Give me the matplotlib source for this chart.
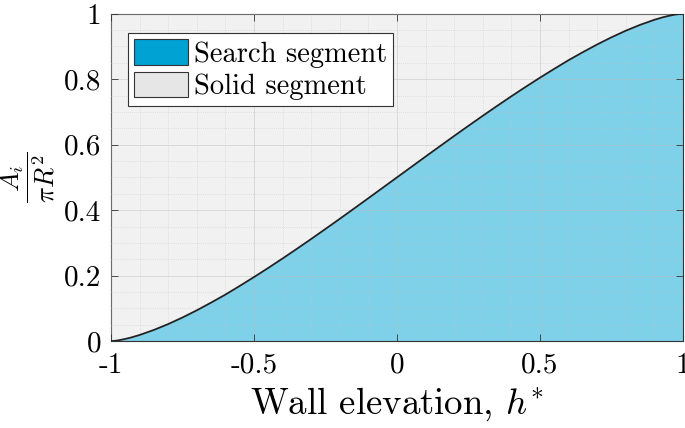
import matplotlib
matplotlib.use("Agg")
import matplotlib.pyplot as plt
from matplotlib.patches import Patch
from matplotlib.ticker import MultipleLocator

plt.rcParams['font.family'] = 'serif'
plt.rcParams['font.serif'] = ['cmr10']
plt.rcParams['mathtext.fontset'] = 'cm'
plt.rcParams['axes.unicode_minus'] = False

# values
h_star = [-1.0, -0.99, -0.98, -0.97, -0.95, -0.93, -0.9, -0.85, -0.8, -0.75, -0.7, -0.65,
          -0.6, -0.55, -0.5, -0.45, -0.4, -0.35, -0.3, -0.25, -0.2, -0.15, -0.1, -0.05,
          0.0, 0.05, 0.1, 0.15, 0.2, 0.25, 0.3, 0.35, 0.4, 0.45, 0.5, 0.55, 0.6, 0.65,
          0.7, 0.75, 0.8, 0.85, 0.9, 0.93, 0.95, 0.97, 0.98, 0.99, 1.0]
area_frac = [0.0, 0.0006, 0.0017, 0.0031, 0.0067, 0.0109, 0.0187, 0.0341, 0.052, 0.0721,
             0.094, 0.1175, 0.142, 0.1684, 0.1955, 0.2235, 0.2523, 0.2818, 0.3119, 0.3425,
             0.3735, 0.4049, 0.4364, 0.4682,
             0.5, 0.5318, 0.5636, 0.5951, 0.6265, 0.6575, 0.6881, 0.7182, 0.7477, 0.7765,
             0.8045, 0.8316, 0.858, 0.8825, 0.906, 0.9279, 0.948, 0.9659, 0.9813, 0.9891,
             0.9933, 0.9969, 0.9983, 0.9994, 1.0]
x_ticks = [-1, -0.5, 0, 0.5, 1]
x_labels = ['-1', '-0.5', '0', '0.5', '1']
y_ticks = [0, 0.2, 0.4, 0.6, 0.8, 1]
y_labels = ['0', '0.2', '0.4', '0.6', '0.8', '1']

search_col = '#00a2d4'
solid_col = '#e6e6e6'

fig = plt.figure(figsize=(6.85, 4.28), dpi=100)
ax = fig.add_axes([0.162, 0.203, 0.835, 0.765])

ax.fill_between(h_star, area_frac, 1, color=solid_col, alpha=0.55, lw=0, zorder=1)
ax.fill_between(h_star, 0, area_frac, color=search_col, alpha=0.5, lw=0, zorder=1)
ax.plot(h_star, area_frac, color='#222222', lw=1.3, zorder=3)

ax.set_xlim(-1, 1)
ax.set_ylim(0, 1)
ax.set_xticks(x_ticks)
ax.set_xticklabels(x_labels)
ax.set_yticks(y_ticks)
ax.set_yticklabels(y_labels)
ax.xaxis.set_minor_locator(MultipleLocator(0.1))
ax.yaxis.set_minor_locator(MultipleLocator(0.05))
ax.tick_params(which='both', direction='in', top=True, right=True, labelsize=21,
               color='#333333', width=0.6)
ax.tick_params(which='major', length=5)
ax.tick_params(axis='x', which='major', pad=8)
ax.tick_params(axis='y', which='major', pad=7)
ax.tick_params(which='minor', length=0)
ax.grid(which='major', color='#bcbcbc', lw=0.5, ls='-', alpha=0.6, zorder=2)
ax.grid(which='minor', color='#c4c4c4', lw=0.5, ls=(0, (1, 2)), alpha=0.8, zorder=2)
ax.set_axisbelow(False)
for s in ax.spines.values():
    s.set_color('#333333')
    s.set_linewidth(0.8)

ax.set_xlabel(r'Wall elevation, $h^{*}$', fontsize=26.5, labelpad=5)
ax.set_ylabel(r'$\dfrac{A_i}{\pi R^2}$', fontsize=19)
ax.yaxis.set_label_coords(-0.094, 0.5)

handles = [Patch(facecolor=search_col, edgecolor='#333333', lw=0.8, label='Search segment'),
           Patch(facecolor=solid_col, edgecolor='#333333', lw=0.8, label='Solid segment')]
leg = ax.legend(handles=handles, loc='upper left', bbox_to_anchor=(0.03, 0.94),
                fontsize=20.5, fancybox=False, framealpha=1, edgecolor='#333333',
                handlelength=1.9, handleheight=1.0, handletextpad=0.2,
                borderpad=0.2, labelspacing=0.15, borderaxespad=0)
leg.get_frame().set_linewidth(0.8)

fig.savefig('out.png', dpi=100)
